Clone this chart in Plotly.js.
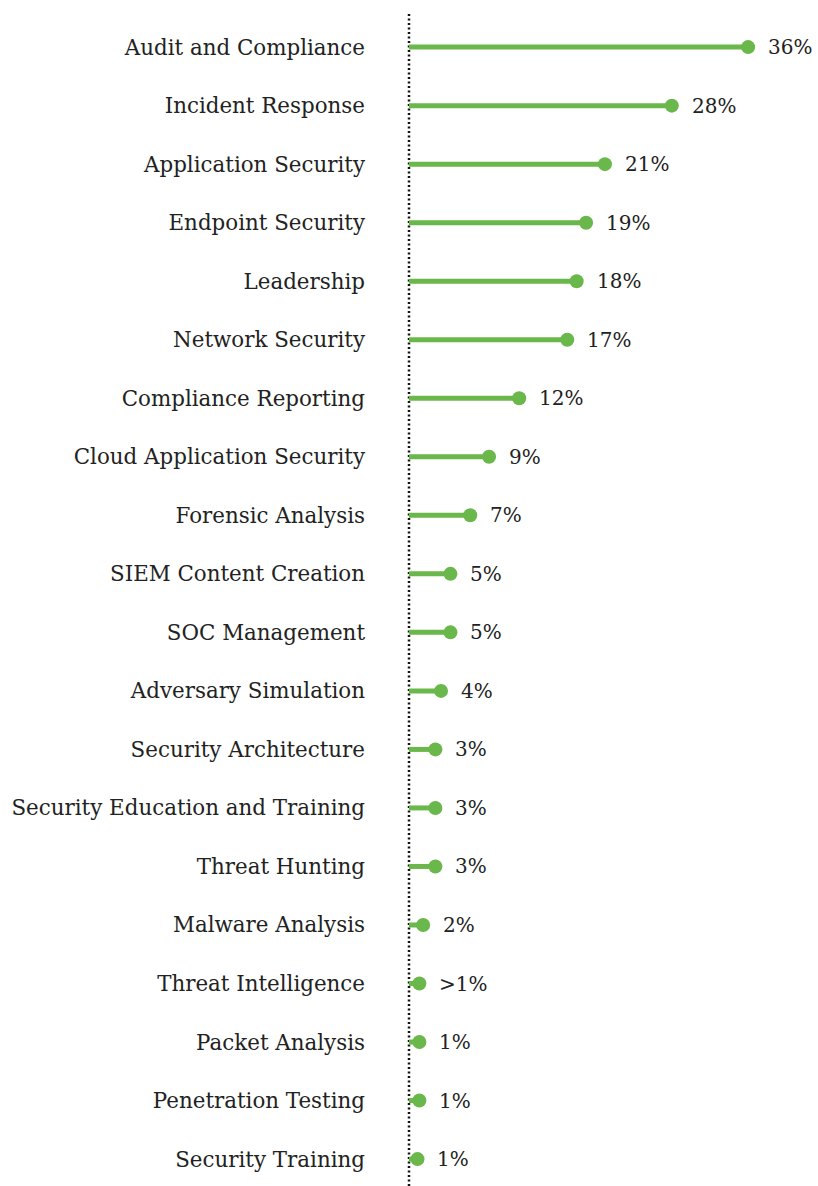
<!DOCTYPE html>
<html>
<head>
<meta charset="utf-8">
<script src="https://cdn.plot.ly/plotly-3.0.1.min.js"></script>
<style>html,body{margin:0;padding:0;background:#fff;}#chart{width:818px;height:1186px;}</style>
</head>
<body>
<div id="chart"></div>
<script>
const categories = [
  "Audit and Compliance", "Incident Response", "Application Security", "Endpoint Security",
  "Leadership", "Network Security", "Compliance Reporting", "Cloud Application Security",
  "Forensic Analysis", "SIEM Content Creation", "SOC Management", "Adversary Simulation",
  "Security Architecture", "Security Education and Training", "Threat Hunting",
  "Malware Analysis", "Threat Intelligence", "Packet Analysis", "Penetration Testing",
  "Security Training"
];
const values = [36.0, 27.9, 20.8, 18.8, 17.8, 16.8, 11.7, 8.5, 6.5, 4.4, 4.4, 3.4, 2.8, 2.8, 2.8, 1.5, 1.1, 1.1, 1.1, 0.9];
const valueLabels = ["36%", "28%", "21%", "19%", "18%", "17%", "12%", "9%", "7%", "5%", "5%", "4%", "3%", "3%", "3%", "2%", ">1%", "1%", "1%", "1%"];

const green = "#6ab74b";
const ink = "#222222";
const fontFam = "DejaVu Serif, serif";

const lx = [], ly = [];
categories.forEach((c, i) => { lx.push(0, values[i], null); ly.push(c, c, null); });

const stems = { type: "scatter", mode: "lines", x: lx, y: ly,
  line: { color: green, width: 5 }, hoverinfo: "skip", showlegend: false, cliponaxis: false };
const dots = { type: "scatter", mode: "markers", x: values, y: categories,
  marker: { color: green, size: 14 }, showlegend: false, cliponaxis: false };

const annotations = categories.map((c, i) => ({
  x: values[i], y: c, xref: "x", yref: "y", text: valueLabels[i], showarrow: false,
  xanchor: "left", yanchor: "middle", xshift: 18,
  font: { family: fontFam, size: 20, color: ink }
}));

const layout = {
  width: 818, height: 1186,
  margin: { l: 405, r: 0, t: 12, b: 0 },
  paper_bgcolor: "#fff", plot_bgcolor: "#fff",
  showlegend: false,
  xaxis: { range: [-0.425, 43.42], showgrid: false, zeroline: false, showticklabels: false, showline: false, fixedrange: true },
  yaxis: { type: "category", categoryarray: categories, categoryorder: "array",
    range: [19.46, -0.6], showgrid: false, zeroline: false, showline: false,
    ticks: "", ticklabelstandoff: 39,
    tickfont: { family: fontFam, size: 21.4, color: ink }, fixedrange: true },
  shapes: [{ type: "line", xref: "x", yref: "paper", x0: 0, x1: 0, y0: 0, y1: 1,
    line: { color: "#111111", width: 2.5, dash: "2px,2.5px" }, layer: "below" }],
  annotations: annotations
};

Plotly.newPlot("chart", [stems, dots], layout, { displayModeBar: false, staticPlot: true });
</script>
</body>
</html>
